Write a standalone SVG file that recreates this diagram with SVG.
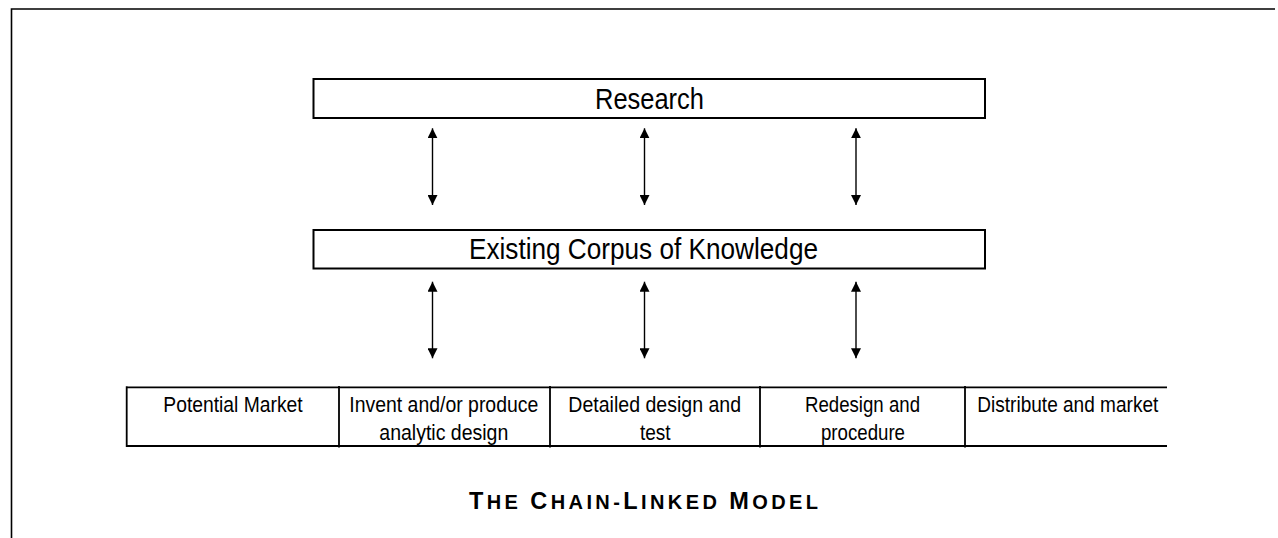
<svg xmlns="http://www.w3.org/2000/svg" width="1278" height="538" viewBox="0 0 1278 538">
  <defs>
    <marker id="tip" viewBox="0 0 10 10" refX="10" refY="5" markerWidth="10" markerHeight="10" markerUnits="userSpaceOnUse" orient="auto-start-reverse">
      <path d="M0,0 L10,5 L0,10 Z" fill="#000"/>
    </marker>
    <style>
      .frame { fill: none; stroke: #000; stroke-width: 1.6; }
      .box { fill: #fff; stroke: #000; stroke-width: 2; }
      .rule { fill: none; stroke: #000; stroke-width: 1.8; }
      .link { fill: none; stroke: #000; stroke-width: 1.4; marker-start: url(#tip); marker-end: url(#tip); }
      .big { font-family: "Liberation Sans", Arial, sans-serif; font-size: 30px; fill: #000; text-anchor: middle; }
      .cell { font-family: "Liberation Sans", Arial, sans-serif; font-size: 22px; fill: #000; text-anchor: middle; }
      .title { font-family: "Liberation Sans", Arial, sans-serif; font-weight: bold; fill: #000; text-anchor: middle; }
      .cap { font-size: 23.5px; }
      .sc { font-size: 20px; }
    </style>
  </defs>

  <rect width="1278" height="538" fill="#fff"/>

  <!-- page frame: top and left edges -->
  <path class="frame" d="M11.5,538 V9 H1275"/>

  <!-- upper layers -->
  <g id="research">
    <rect class="box" x="313.5" y="79" width="671.5" height="39"/>
    <text class="big" x="649.5" y="109.3" textLength="109" lengthAdjust="spacingAndGlyphs">Research</text>
  </g>

  <g id="knowledge">
    <rect class="box" x="313.5" y="230" width="671.5" height="38.5"/>
    <text class="big" x="643.5" y="259.3" textLength="349" lengthAdjust="spacingAndGlyphs">Existing Corpus of Knowledge</text>
  </g>

  <!-- chain of innovation stages -->
  <g id="chain">
    <path class="rule" d="M126.7,387.3 H1167 M126.7,446 H1167 M126.7,386.3 V447"/>
    <path class="rule" d="M339,386 V447.5 M550,386 V447.5 M760,386 V447.5 M965,386 V447.5"/>
  </g>

  <g id="potential-market">
    <text class="cell" x="233" y="411.5" textLength="139.4" lengthAdjust="spacingAndGlyphs">Potential Market</text>
  </g>

  <g id="invent">
    <text class="cell" x="443.8" y="411.5" textLength="189" lengthAdjust="spacingAndGlyphs">Invent and/or produce</text>
    <text class="cell" x="443.8" y="440" textLength="129" lengthAdjust="spacingAndGlyphs">analytic design</text>
  </g>

  <g id="detailed-design">
    <text class="cell" x="654.7" y="411.5" textLength="172.7" lengthAdjust="spacingAndGlyphs">Detailed design and</text>
    <text class="cell" x="655.3" y="440" textLength="30.7" lengthAdjust="spacingAndGlyphs">test</text>
  </g>

  <g id="redesign">
    <text class="cell" x="862.5" y="411.5" textLength="115" lengthAdjust="spacingAndGlyphs">Redesign and</text>
    <text class="cell" x="863" y="440" textLength="84" lengthAdjust="spacingAndGlyphs">procedure</text>
  </g>

  <g id="distribute">
    <text class="cell" x="1067.8" y="411.5" textLength="181" lengthAdjust="spacingAndGlyphs">Distribute and market</text>
  </g>

  <!-- two-way links between layers -->
  <g id="connectors">
    <line class="link" x1="432.5" y1="128.3" x2="432.5" y2="205"/>
    <line class="link" x1="644.5" y1="128.3" x2="644.5" y2="205"/>
    <line class="link" x1="856" y1="128.3" x2="856" y2="205"/>
    <line class="link" x1="432.5" y1="281.7" x2="432.5" y2="358.3"/>
    <line class="link" x1="644.5" y1="281.7" x2="644.5" y2="358.3"/>
    <line class="link" x1="856" y1="281.7" x2="856" y2="358.3"/>
  </g>

  <!-- caption in small capitals -->
  <text class="title" x="643.5" y="509.3" textLength="349"><tspan class="cap">T</tspan><tspan class="sc">HE </tspan><tspan class="cap">C</tspan><tspan class="sc">HAIN-</tspan><tspan class="cap">L</tspan><tspan class="sc">INKED </tspan><tspan class="cap">M</tspan><tspan class="sc">ODEL</tspan></text>
</svg>
